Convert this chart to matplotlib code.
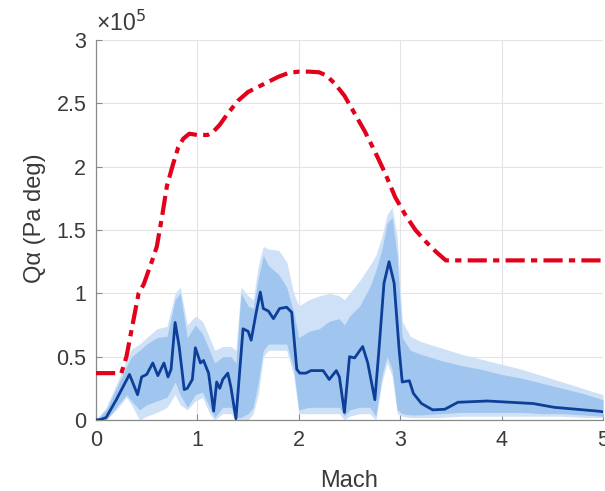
import matplotlib
matplotlib.use("Agg")
import matplotlib.pyplot as plt
import numpy as np

plt.rcParams['font.family'] = ['Liberation Sans', 'DejaVu Sans']

# Q-alpha values are in units of 1e5 Pa*deg
limit_mach = [0, 0.25, 0.3, 0.36, 0.42, 0.47, 0.55, 0.6, 0.65, 0.7, 0.76, 0.81, 0.86,
              0.92, 1.0, 1.1, 1.15, 1.22, 1.3, 1.4, 1.5, 1.6, 1.7, 1.8, 1.9, 2.0,
              2.1, 2.2, 2.27, 2.35, 2.45, 2.55, 2.65, 2.75, 2.85, 2.95, 3.05, 3.15,
              3.25, 3.35, 3.45, 5.0]
limit_q = [0.37, 0.37, 0.5, 0.75, 1.0, 1.07, 1.25, 1.37, 1.6, 1.85, 2.02, 2.15, 2.22,
           2.26, 2.25, 2.25, 2.27, 2.33, 2.42, 2.52, 2.59, 2.63, 2.67, 2.71, 2.74, 2.75,
           2.75, 2.745, 2.72, 2.66, 2.56, 2.42, 2.28, 2.12, 1.95, 1.76, 1.62, 1.5,
           1.41, 1.33, 1.26, 1.26]

# Monte Carlo dispersion: faint outer envelope and dense core
band_mach = [0, 0.1, 0.2, 0.3, 0.35, 0.43, 0.5, 0.6, 0.7, 0.78, 0.83, 0.9, 0.98, 1.05,
             1.12, 1.17, 1.25, 1.33, 1.38, 1.43, 1.5, 1.55, 1.6, 1.65, 1.7, 1.8, 1.88,
             1.95, 2.0, 2.1, 2.2, 2.3, 2.4, 2.45, 2.5, 2.6, 2.7, 2.76, 2.82, 2.87, 2.92,
             2.97, 3.02, 3.1, 3.2, 3.4, 3.6, 3.8, 4.0, 4.2, 4.4, 4.6, 4.8, 5.0]
faint_hi = [0, 0.1, 0.28, 0.47, 0.56, 0.6, 0.65, 0.72, 0.74, 1.0, 1.05, 0.75, 0.82, 0.78,
            0.65, 0.55, 0.58, 0.58, 0.55, 1.05, 0.98, 0.95, 1.22, 1.37, 1.35, 1.34, 1.25,
            1.0, 0.9, 0.95, 0.98, 1.0, 0.98, 0.95, 1.0, 1.1, 1.22, 1.3, 1.45, 1.62, 1.68,
            1.45, 0.78, 0.66, 0.62, 0.57, 0.52, 0.48, 0.44, 0.4, 0.35, 0.3, 0.25, 0.2]
faint_lo = [0, 0, 0.08, 0.18, 0.12, 0, 0.03, 0.06, 0.1, 0.2, 0.12, 0.08, 0.15, 0.18,
            0.05, 0, 0.05, 0.05, 0, 0, 0, 0.05, 0.2, 0.5, 0.55, 0.55, 0.55, 0.35, 0.05,
            0.05, 0.05, 0.05, 0.05, 0, 0.03, 0.05, 0.05, 0, 0.3, 0.45, 0.35, 0.05, 0.03,
            0.02, 0.02, 0.02, 0.03, 0.03, 0.03, 0.03, 0.03, 0.03, 0.02, 0.02]
dense_hi = [0, 0.08, 0.25, 0.42, 0.5, 0.55, 0.6, 0.65, 0.66, 0.95, 1.0, 0.65, 0.75, 0.68,
            0.55, 0.45, 0.5, 0.5, 0.45, 1.0, 0.9, 0.88, 1.12, 1.3, 1.22, 1.15, 1.05,
            0.85, 0.65, 0.7, 0.72, 0.78, 0.8, 0.75, 0.82, 0.9, 1.05, 1.18, 1.35, 1.55,
            1.6, 1.3, 0.65, 0.55, 0.52, 0.47, 0.43, 0.4, 0.36, 0.33, 0.29, 0.25, 0.21, 0.16]
dense_lo = [0, 0, 0.1, 0.2, 0.15, 0.08, 0.12, 0.15, 0.18, 0.3, 0.2, 0.1, 0.2, 0.22,
            0.1, 0.02, 0.1, 0.1, 0.02, 0.02, 0.05, 0.1, 0.3, 0.55, 0.6, 0.6, 0.6, 0.4,
            0.08, 0.1, 0.1, 0.1, 0.1, 0.03, 0.08, 0.1, 0.1, 0.03, 0.35, 0.5, 0.4, 0.08,
            0.05, 0.04, 0.04, 0.05, 0.06, 0.06, 0.06, 0.06, 0.05, 0.05, 0.04, 0.03]

mean_mach = [0, 0.05, 0.1, 0.2, 0.33, 0.41, 0.45, 0.5, 0.56, 0.61, 0.67, 0.71, 0.74,
             0.78, 0.82, 0.87, 0.9, 0.95, 0.98, 1.03, 1.06, 1.11, 1.16, 1.19, 1.22,
             1.25, 1.3, 1.33, 1.38, 1.45, 1.5, 1.53, 1.58, 1.62, 1.65, 1.7, 1.75, 1.81,
             1.88, 1.93, 1.98, 2.01, 2.07, 2.12, 2.24, 2.3, 2.37, 2.4, 2.45, 2.5, 2.55,
             2.63, 2.68, 2.75, 2.79, 2.84, 2.89, 2.94, 2.99, 3.02, 3.09, 3.13, 3.21,
             3.32, 3.44, 3.57, 3.86, 4.31, 4.52, 4.95, 5.0]
mean_q = [0, 0.005, 0.02, 0.16, 0.36, 0.2, 0.34, 0.36, 0.45, 0.35, 0.45, 0.34, 0.4,
          0.77, 0.58, 0.24, 0.25, 0.32, 0.57, 0.45, 0.47, 0.37, 0.07, 0.3, 0.25, 0.32,
          0.37, 0.26, 0.01, 0.72, 0.70, 0.63, 0.85, 1.01, 0.88, 0.86, 0.8, 0.88, 0.89,
          0.85, 0.4, 0.37, 0.37, 0.39, 0.39, 0.32, 0.39, 0.34, 0.06, 0.5, 0.49, 0.58,
          0.45, 0.16, 0.55, 1.08, 1.25, 1.08, 0.55, 0.3, 0.31, 0.21, 0.13, 0.08, 0.085,
          0.14, 0.15, 0.13, 0.1, 0.07, 0.065]

x_ticks = [0, 1, 2, 3, 4, 5]
y_ticks = [0, 0.5, 1, 1.5, 2, 2.5, 3]
y_tick_labels = ['0', '0.5', '1', '1.5', '2', '2.5', '3']

fig = plt.figure(figsize=(6.05, 4.91), dpi=100)
ax = fig.add_axes([0.1587, 0.1446, 0.838, 0.774])

ax.fill_between(band_mach, faint_lo, faint_hi, color='#cfe1f6', lw=0, zorder=2)
ax.fill_between(band_mach, dense_lo, dense_hi, color='#a0c6ef', lw=0, zorder=2)
ax.plot(mean_mach, mean_q, color='#0d3f98', lw=2.0, zorder=3)
ax.plot(limit_mach, limit_q, color='#e3001b', lw=3.0,
        linestyle=(0, (4.6, 1.5, 1.5, 1.5)), zorder=4)

ax.set_xlim(0, 5)
ax.set_ylim(0, 3)
ax.set_xticks(x_ticks)
ax.set_yticks(y_ticks)
ax.set_yticklabels(y_tick_labels)
ax.grid(True, color='#e4e4e4', lw=0.8, zorder=0)
ax.set_axisbelow(True)
for side in ('top', 'right'):
    ax.spines[side].set_visible(False)
for side in ('left', 'bottom'):
    ax.spines[side].set_color('#8a8a8a')
    ax.spines[side].set_linewidth(0.9)
ax.tick_params(direction='in', length=4, color='#8a8a8a', labelsize=15.5,
               labelcolor='#3a3a3a', pad=7)

ax.set_xlabel('Mach', fontsize=17, color='#3a3a3a', labelpad=14)
ax.set_ylabel('Qα (Pa deg)', fontsize=17, color='#3a3a3a')
ax.yaxis.set_label_coords(-0.098, 0.53)
ax.text(0.0, 1.012, '×10$^{5}$', transform=ax.transAxes, fontsize=16.5,
        color='#3a3a3a', ha='left', va='bottom')

fig.savefig('out.png', dpi=100)
